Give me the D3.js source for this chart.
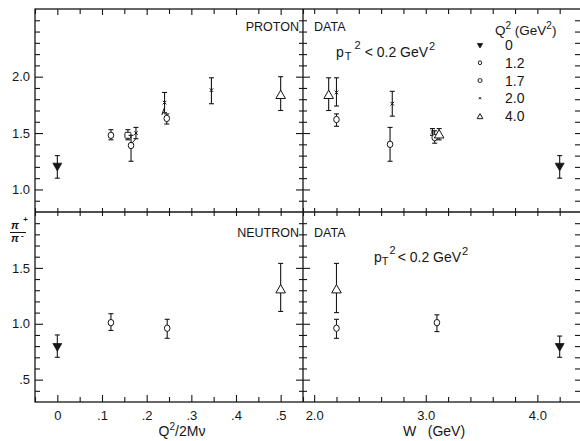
<!DOCTYPE html>
<html><head><meta charset="utf-8">
<script src="https://cdn.jsdelivr.net/npm/d3@7"></script>
<style>
html,body{margin:0;padding:0;background:#fff;}
svg{display:block;}
text{font-family:"Liberation Sans",Arial,sans-serif;fill:#161616;}
</style></head>
<body>
<svg id="c" width="580" height="441"></svg>
<script>
// ---------- data ----------
// Legend: Q^2 values (GeV^2) and their marker kinds
const q2Labels = ["0", "1.2", "1.7", "2.0", "4.0"];
const q2Kinds  = ["tri-down-filled", "circle", "square", "times", "tri-up"];

// Proton vs Q^2/2Mnu : [x, y, low, high, kind]
const protonX = [
  [0.000, 1.21, 1.10, 1.30, "tri-down-filled"],
  [0.120, 1.48, 1.44, 1.53, "circle"],
  [0.158, 1.48, 1.44, 1.53, "square"],
  [0.165, 1.39, 1.25, 1.48, "circle"],
  [0.176, 1.50, 1.45, 1.55, "times"],
  [0.240, 1.77, 1.68, 1.86, "times"],
  [0.245, 1.63, 1.58, 1.67, "circle"],
  [0.345, 1.88, 1.76, 1.99, "times"],
  [0.500, 1.84, 1.70, 2.00, "tri-up"]
];
// leader lines from displaced points [x1,y1,x2,y2]
const protonLeaders = [
  [0.176, 1.45, 0.167, 1.41],
  [0.239, 1.72, 0.234, 1.66]
];
// Proton vs W (GeV)
const protonW = [
  [2.13, 1.84, 1.70, 1.99, "tri-up"],
  [2.20, 1.86, 1.74, 1.99, "times"],
  [2.20, 1.62, 1.56, 1.67, "circle"],
  [2.70, 1.76, 1.65, 1.87, "times"],
  [2.68, 1.40, 1.25, 1.55, "circle"],
  [3.06, 1.51, 1.48, 1.54, "times"],
  [3.08, 1.46, 1.41, 1.52, "circle"],
  [3.12, 1.49, 1.44, 1.54, "tri-up"],
  [4.20, 1.21, 1.10, 1.30, "tri-down-filled"]
];
// Neutron vs Q^2/2Mnu
const neutronX = [
  [0.000, 0.80, 0.70, 0.90, "tri-down-filled"],
  [0.120, 1.01, 0.94, 1.09, "circle"],
  [0.246, 0.96, 0.87, 1.04, "circle"],
  [0.500, 1.31, 1.11, 1.54, "tri-up"]
];
// Neutron vs W
const neutronW = [
  [2.20, 1.31, 1.10, 1.54, "tri-up"],
  [2.20, 0.96, 0.87, 1.04, "circle"],
  [3.10, 1.01, 0.93, 1.08, "circle"],
  [4.20, 0.80, 0.70, 0.89, "tri-down-filled"]
];

// tick values
const xLMajor = [0, 0.1, 0.2, 0.3, 0.4, 0.5];
const xLMajorLabels = ["0", ".1", ".2", ".3", ".4", ".5"];
const xLMinor = [-0.05, 0.05, 0.15, 0.25, 0.35, 0.45, 0.55];
const xRMajor = [2.0, 3.0, 4.0];
const xRMajorLabels = ["2.0", "3.0", "4.0"];
const xRMinor = [2.2, 2.4, 2.6, 2.8, 3.2, 3.4, 3.6, 3.8, 4.2, 4.4];
const yTMajor = [1.0, 1.5, 2.0];
const yTMajorLabels = ["1.0", "1.5", "2.0"];
const yTMinor = [0.9, 1.1, 1.2, 1.3, 1.4, 1.6, 1.7, 1.8, 1.9, 2.1, 2.2, 2.3, 2.4, 2.5];
const yBMajor = [0.5, 1.0, 1.5];
const yBMajorLabels = [".5", "1.0", "1.5"];
const yBMinor = [0.4, 0.6, 0.7, 0.8, 0.9, 1.1, 1.2, 1.3, 1.4, 1.6, 1.7, 1.8, 1.9];

// ---------- layout ----------
const ink = "#161616";
const svg = d3.select("#c");
const xL = d3.scaleLinear().domain([-0.05, 0.55]).range([35, 303]);
const xR = d3.scaleLinear().domain([1.9, 4.4]).range([303, 582]);
const yT = d3.scaleLinear().domain([0.8, 2.6]).range([212, 9]);
const yB = d3.scaleLinear().domain([0.3, 2.0]).range([402, 212]);

const axes = svg.append("g");
function ax(axisFn, scale, vals, size, tx, ty, labels, pad) {
  const a = axisFn(scale).tickValues(vals).tickSizeOuter(0).tickSizeInner(size)
    .tickPadding(pad || 4)
    .tickFormat(labels ? ((d, i) => labels[i]) : () => "");
  const g = axes.append("g").attr("transform", `translate(${tx},${ty})`).call(a);
  g.select(".domain").remove();
  g.selectAll(".tick line").attr("stroke", ink).attr("stroke-width", 1.1);
  g.selectAll(".tick text").attr("fill", ink).attr("font-size", 13)
    .attr("font-family", '"Liberation Sans",Arial,sans-serif');
  return g;
}
// left panel x: bottom (inward), top (inward), middle (both sides)
ax(d3.axisBottom, xL, xLMajor, -7, 0, 402, xLMajorLabels, 9);
ax(d3.axisBottom, xL, xLMinor, -5, 0, 402);
ax(d3.axisTop, xL, xLMajor, -6, 0, 9);
ax(d3.axisTop, xL, xLMinor, -5, 0, 9);
ax(d3.axisTop, xL, xLMajor.concat(xLMinor), 4, 0, 212);
ax(d3.axisBottom, xL, xLMajor.concat(xLMinor), 4, 0, 212);
// right panel x
ax(d3.axisBottom, xR, xRMajor, -7, 0, 402, xRMajorLabels, 9);
ax(d3.axisBottom, xR, xRMinor, -5, 0, 402);
ax(d3.axisTop, xR, xRMajor.concat(xRMinor), -5, 0, 9);
ax(d3.axisTop, xR, xRMajor.concat(xRMinor), 4, 0, 212);
ax(d3.axisBottom, xR, xRMajor.concat(xRMinor), 4, 0, 212);
// y axes top panel
ax(d3.axisLeft, yT, yTMajor, -8, 35, 0, yTMajorLabels, 5);
ax(d3.axisLeft, yT, yTMinor, -5, 35, 0);
ax(d3.axisLeft, yT, yTMajor, 7, 303, 0);
ax(d3.axisRight, yT, yTMajor, 7, 303, 0);
ax(d3.axisLeft, yT, yTMinor, 4, 303, 0);
ax(d3.axisRight, yT, yTMinor, 4, 303, 0);
ax(d3.axisRight, yT, yTMajor.concat(yTMinor), -7, 582, 0);
// y axes bottom panel
ax(d3.axisLeft, yB, yBMajor, -8, 35, 0, yBMajorLabels, 5);
ax(d3.axisLeft, yB, yBMinor, -5, 35, 0);
ax(d3.axisLeft, yB, yBMajor, 7, 303, 0);
ax(d3.axisRight, yB, yBMajor, 7, 303, 0);
ax(d3.axisLeft, yB, yBMinor, 4, 303, 0);
ax(d3.axisRight, yB, yBMinor, 4, 303, 0);
ax(d3.axisRight, yB, yBMajor.concat(yBMinor), -7, 582, 0);

// frame lines
const fr = svg.append("g").attr("stroke", ink).attr("stroke-width", 1.3).attr("fill", "none");
fr.append("rect").attr("x", xL.range()[0]).attr("y", yT.range()[1])
  .attr("width", xR.range()[1] - xL.range()[0]).attr("height", yB.range()[0] - yT.range()[1]);
fr.append("line").attr("x1", xL.range()[0]).attr("x2", xR.range()[1]).attr("y1", yT.range()[0]).attr("y2", yT.range()[0]);
fr.append("line").attr("x1", xL.range()[1]).attr("x2", xL.range()[1]).attr("y1", yT.range()[1]).attr("y2", yB.range()[0]);

// ---------- markers ----------
function marker(g, kind, x, y, legend) {
  const s = legend ? 0.6 : 1;
  if (kind === "tri-down-filled") {
    g.append("path").attr("d", d3.symbol(d3.symbolTriangle, 34 * s * s)())
      .attr("transform", `translate(${x},${y}) rotate(180)`).attr("fill", ink).attr("stroke", ink).attr("stroke-width", 0.8);
  } else if (kind === "tri-up") {
    g.append("path").attr("d", d3.symbol(d3.symbolTriangle, 40 * s * s)())
      .attr("transform", `translate(${x},${y + 1})`).attr("fill", "#fff").attr("stroke", ink).attr("stroke-width", 1);
  } else if (kind === "circle") {
    g.append("ellipse").attr("cx", x).attr("cy", y).attr("rx", 2.8 * s).attr("ry", 3.2 * s)
      .attr("fill", "#fff").attr("stroke", ink).attr("stroke-width", 1);
  } else if (kind === "square") {
    g.append("rect").attr("x", x - 3 * s).attr("y", y - 3 * s).attr("width", 6 * s).attr("height", 6 * s)
      .attr("rx", 1).attr("fill", "#fff").attr("stroke", ink).attr("stroke-width", 1);
  } else if (kind === "times") {
    g.append("path").attr("d", d3.symbol(d3.symbolTimes, 10 * s * s)())
      .attr("transform", `translate(${x},${y})`).attr("fill", "none").attr("stroke", ink).attr("stroke-width", 1);
  }
}
function drawSet(data, xs, ys) {
  const g = svg.append("g");
  data.forEach(d => {
    const x = xs(d[0]);
    const eb = g.append("g").attr("stroke", ink).attr("stroke-width", 1.1);
    eb.append("line").attr("x1", x).attr("x2", x).attr("y1", ys(d[2])).attr("y2", ys(d[3]));
    eb.append("line").attr("x1", x - 2.5).attr("x2", x + 2.5).attr("y1", ys(d[2])).attr("y2", ys(d[2]));
    eb.append("line").attr("x1", x - 2.5).attr("x2", x + 2.5).attr("y1", ys(d[3])).attr("y2", ys(d[3]));
    marker(g, d[4], x, ys(d[1]), false);
  });
}
drawSet(protonX, xL, yT);
drawSet(protonW, xR, yT);
drawSet(neutronX, xL, yB);
drawSet(neutronW, xR, yB);
svg.append("g").selectAll("line").data(protonLeaders).join("line")
  .attr("x1", d => xL(d[0])).attr("y1", d => yT(d[1]))
  .attr("x2", d => xL(d[2])).attr("y2", d => yT(d[3]))
  .attr("stroke", ink).attr("stroke-width", 1);

// ---------- texts ----------
const T = svg.append("g").attr("fill", ink);
T.append("text").attr("x", 299).attr("y", 31).attr("text-anchor", "end").attr("font-size", 12.5).text("PROTON");
T.append("text").attr("x", 314).attr("y", 31).attr("font-size", 12.5).text("DATA");
T.append("text").attr("x", 299).attr("y", 237).attr("text-anchor", "end").attr("font-size", 12.5).text("NEUTRON");
T.append("text").attr("x", 314).attr("y", 237).attr("font-size", 12.5).text("DATA");

function ptText(x, y, wide) {
  const t = T.append("text").attr("x", x).attr("y", y).attr("font-size", 14);
  t.append("tspan").text("p");
  t.append("tspan").attr("dx", wide ? 1 : 0).attr("dy", 3).attr("font-size", 11).text("T");
  t.append("tspan").attr("dx", wide ? 3 : 1).attr("dy", -11).attr("font-size", 11).text("2");
  t.append("tspan").attr("dy", 8).attr("dx", wide ? 4 : 2).text(wide ? "<  0.2  GeV" : "< 0.2 GeV");
  t.append("tspan").attr("dy", -7).attr("dx", 1).attr("font-size", 11).text("2");
}
ptText(336, 57, true);
ptText(374, 262, false);

// legend
const lg = svg.append("g");
const hd = T.append("text").attr("x", 495).attr("y", 35).attr("font-size", 13.5);
hd.append("tspan").text("Q");
hd.append("tspan").attr("dy", -6).attr("font-size", 10).text("2");
hd.append("tspan").attr("dy", 6).text(" (GeV");
hd.append("tspan").attr("dy", -6).attr("font-size", 10).text("2");
hd.append("tspan").attr("dy", 6).text(")");
const rowY = d3.scalePoint().domain(q2Labels).range([45, 116]);
q2Labels.forEach((lab, i) => {
  marker(lg, q2Kinds[i], 480, rowY(lab), true);
  T.append("text").attr("x", 505).attr("y", rowY(lab) + 5).attr("font-size", 14).text(lab);
});

// y-label fraction
const yl = T.append("g").attr("font-family", '"DejaVu Serif",serif').attr("font-style", "italic").attr("font-weight", "bold");
yl.append("text").attr("x", 11).attr("y", 229).attr("font-size", 11).text("π");
yl.append("text").attr("x", 23).attr("y", 222).attr("font-size", 8).text("+");
yl.append("line").attr("x1", 10).attr("x2", 26).attr("y1", 232.5).attr("y2", 232.5).attr("stroke", ink).attr("stroke-width", 1);
yl.append("text").attr("x", 11).attr("y", 242).attr("font-size", 11).text("π");
yl.append("text").attr("x", 21).attr("y", 238).attr("font-size", 8).text("-");

// x titles
const xt = T.append("text").attr("x", 182).attr("y", 436).attr("text-anchor", "middle").attr("font-size", 14);
xt.append("tspan").text("Q");
xt.append("tspan").attr("dy", -6).attr("font-size", 10).text("2");
xt.append("tspan").attr("dy", 6).text("/2Mν");
T.append("text").attr("x", 434).attr("y", 436).attr("text-anchor", "middle").attr("font-size", 14)
  .attr("xml:space", "preserve").text("W   (GeV)");
</script>
</body></html>
